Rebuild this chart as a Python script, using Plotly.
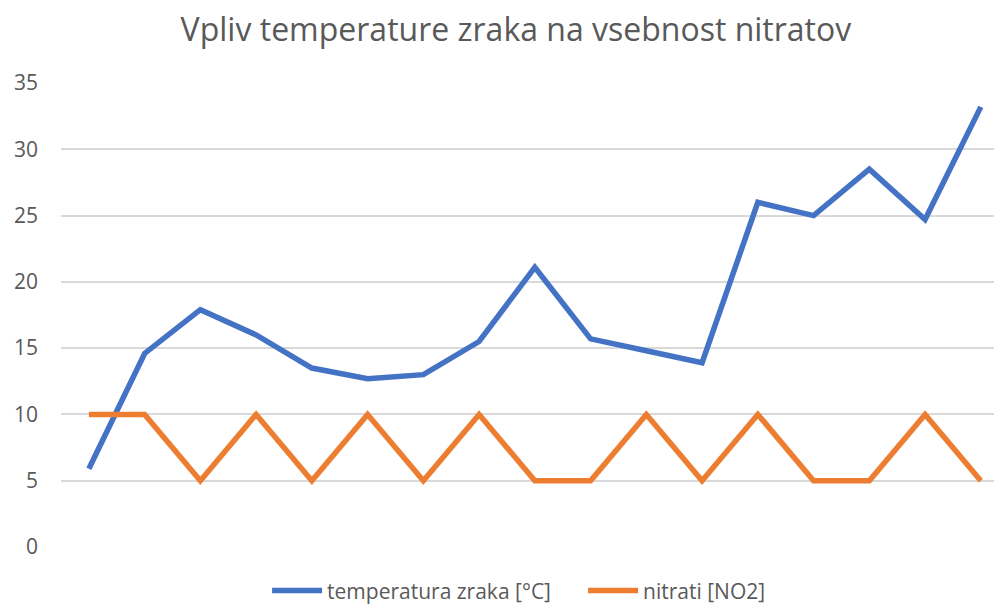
import plotly.graph_objects as go

categories = list(range(1, 18))
temperatura = [5.9, 14.6, 17.9, 16.0, 13.5, 12.7, 13.0, 15.5, 21.1, 15.7, 14.8, 13.9, 26.0, 25.0, 28.5, 24.7, 33.2]
nitrati = [10, 10, 5, 10, 5, 10, 5, 10, 5, 5, 10, 5, 10, 5, 5, 10, 5]
y_ticks = [0, 5, 10, 15, 20, 25, 30, 35]

FONT = "Open Sans"
GREY = "#595959"

fig = go.Figure()
fig.add_trace(go.Scatter(x=categories, y=temperatura, mode="lines", name="temperatura zraka [°C]",
                         line=dict(color="#4472C4", width=5.5)))
fig.add_trace(go.Scatter(x=categories, y=nitrati, mode="lines", name="nitrati [NO2]",
                         line=dict(color="#ED7D31", width=5.5)))

# page body has an 8px margin, so figure is 994x601 placed at (8, 8)
fig.update_layout(
    width=994, height=601,
    paper_bgcolor="white", plot_bgcolor="white",
    margin=dict(l=53, r=0, t=75, b=62),
    title=dict(text="Vpliv temperature zraka na vsebnost nitratov", x=0.511, xanchor="center",
               y=0.963, yanchor="middle",
               font=dict(family=FONT, size=32, color=GREY)),
    font=dict(family=FONT, color=GREY),
    showlegend=True,
    legend=dict(orientation="h", x=0.219, xanchor="left", yref="container", y=0.03, yanchor="middle",
                entrywidth=251, entrywidthmode="pixels",
                font=dict(family=FONT, size=21, color=GREY), itemwidth=50, traceorder="normal"),
    xaxis=dict(range=[0.5, 17.38], showticklabels=False, showgrid=False, zeroline=False,
               showline=False, ticks=""),
    yaxis=dict(range=[0, 35], tickvals=y_ticks, showgrid=True, gridcolor="#D9D9D9", gridwidth=1.5,
               zeroline=False, showline=False, ticks="", ticklabelstandoff=22,
               tickfont=dict(family=FONT, size=21, color=GREY)),
)

fig.write_html("out.html")
